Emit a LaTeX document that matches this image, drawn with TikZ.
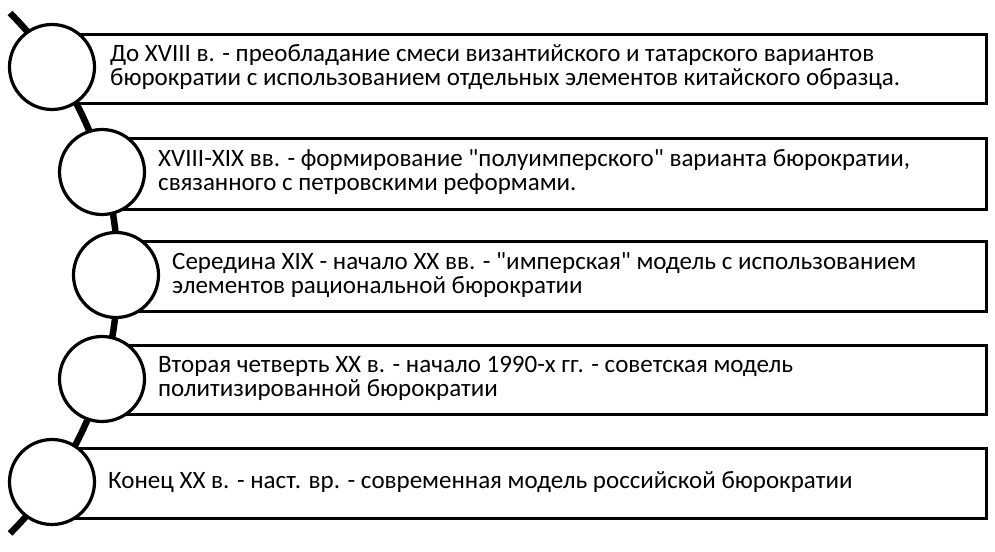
\documentclass[tikz,border=0pt]{standalone}
\usepackage{fontspec}
\newfontfamily\calfont{Carlito}
\begin{document}
\begin{tikzpicture}[x=1pt,y=-1pt,
  box/.style={draw=black,line width=3.2pt,anchor=north west,inner sep=0pt},
  ring/.style={draw=black,fill=white,line width=3.2pt,circle,minimum size=85pt,inner sep=0pt},
  lbl/.style={anchor=west,align=left,inner sep=0pt,font=\calfont\fontsize{25}{24}\selectfont},
  spine/.style={line width=6.5pt,draw=black}]
\useasboundingbox (0,0) rectangle (995,551);
\coordinate (s1) at (10,13);
\draw[spine] (s1) arc[start angle=-45,end angle=45,radius=368];
\node[box,minimum width=933pt,minimum height=69pt] (b1) at (52,33) {};
\node[box,minimum width=883pt,minimum height=71pt] (b2) at (102,137) {};
\node[box,minimum width=869pt,minimum height=70pt] (b3) at (116,240) {};
\node[box,minimum width=883pt,minimum height=69pt] (b4) at (102,344) {};
\node[box,minimum width=933pt,minimum height=70pt] (b5) at (52,447) {};
\node[ring] (c1) at (52,67) {};
\node[ring] (c2) at (102,172) {};
\node[ring] (c3) at (116,275) {};
\node[ring] (c4) at (102,379) {};
\node[ring] (c5) at (52,482) {};
\node[lbl] (t1) at (110,67.5) {До XVIII в. - преобладание смеси византийского и татарского вариантов\\бюрократии с использованием отдельных элементов китайского образца.};
\node[lbl] (t2) at (158,172.5) {XVIII-XIX вв. - формирование "полуимперского" варианта бюрократии,\\связанного с петровскими реформами.};
\node[lbl] (t3) at (172,275) {Середина XIX - начало XX вв. - "имперская" модель с использованием\\элементов рациональной бюрократии};
\node[lbl] (t4) at (158,378.5) {Вторая четверть XX в. - начало 1990-х гг. - советская модель\\политизированной бюрократии};
\node[lbl] (t5) at (108,482) {Конец XX в. - наст. вр. - современная модель российской бюрократии};
\end{tikzpicture}
\end{document}
